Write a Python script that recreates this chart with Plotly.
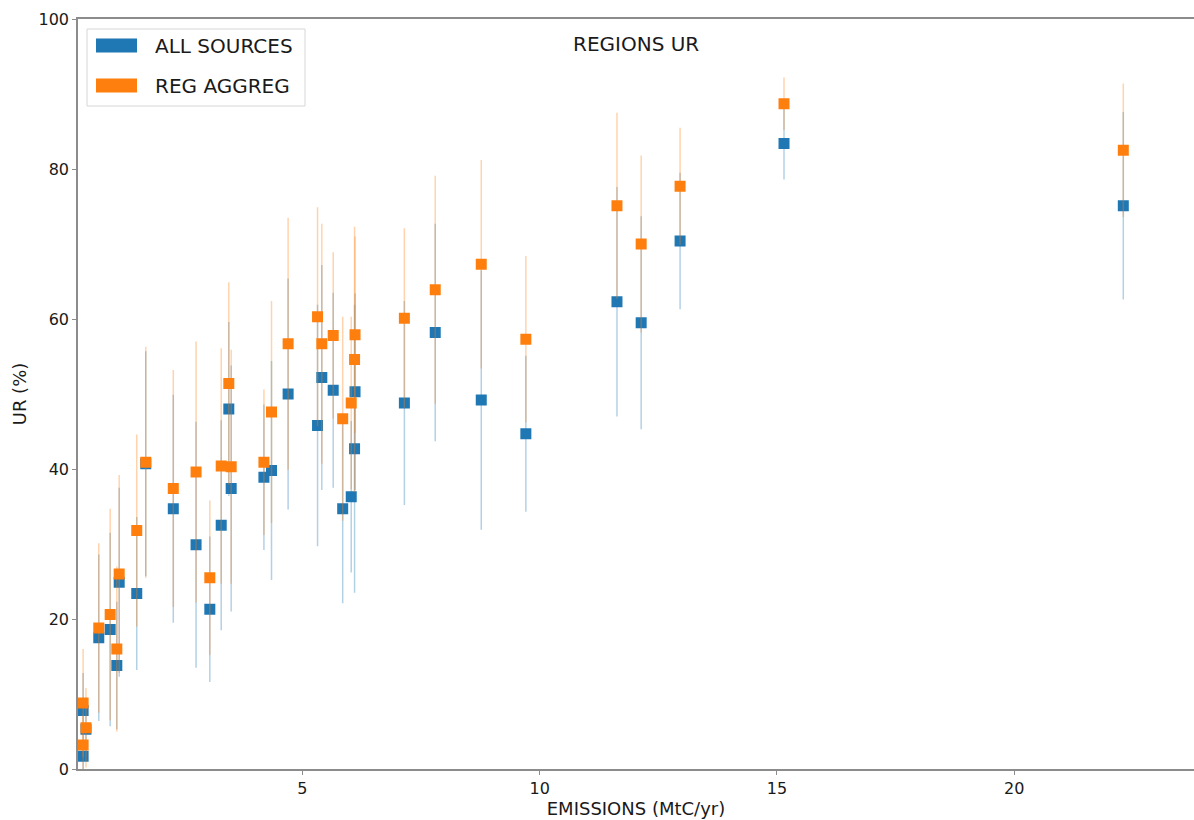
import plotly.graph_objects as go

# ---- data ----
emissions = [0.38, 0.38, 0.44, 0.71, 0.95, 1.09, 1.14, 1.51, 1.70, 2.28, 2.76, 3.05,
             3.29, 3.45, 3.50, 4.19, 4.35, 4.70, 5.32, 5.41, 5.65, 5.85, 6.03, 6.10,
             6.11, 7.15, 7.80, 8.77, 9.71, 11.63, 12.14, 12.96, 15.15, 22.30]
ur_all = [1.7, 7.8, 5.3, 17.5, 18.6, 13.8, 24.9, 23.4, 40.7, 34.7, 29.9, 21.3,
          32.5, 48.0, 37.4, 38.9, 39.8, 50.0, 45.8, 52.2, 50.5, 34.7, 36.3, 42.7,
          50.3, 48.8, 58.2, 49.2, 44.7, 62.3, 59.5, 70.4, 83.4, 75.1]
err_all = [2.0, 5.0, 4.0, 11.1, 12.9, 8.5, 12.6, 10.2, 15.0, 15.2, 16.4, 9.7,
           14.0, 11.6, 16.4, 9.7, 14.6, 15.4, 16.1, 15.0, 13.0, 12.6, 10.1, 19.2,
           13.1, 13.6, 14.5, 17.3, 10.4, 15.3, 14.2, 9.1, 4.8, 12.5]
ur_reg = [3.2, 8.8, 5.5, 18.8, 20.6, 16.0, 26.0, 31.8, 40.9, 37.4, 39.6, 25.5,
          40.4, 51.4, 40.3, 40.9, 47.6, 56.7, 60.3, 56.7, 57.8, 46.7, 48.8, 54.6,
          57.9, 60.1, 63.9, 67.3, 57.3, 75.1, 70.0, 77.7, 88.7, 82.5]
err_reg = [4.0, 7.2, 5.3, 11.3, 14.1, 11.0, 13.2, 12.8, 15.4, 15.8, 17.4, 10.3,
           15.7, 13.5, 15.6, 9.7, 14.8, 16.8, 14.6, 16.0, 11.1, 13.6, 11.5, 17.7,
           13.1, 12.0, 15.2, 13.9, 11.1, 12.4, 11.8, 7.8, 3.5, 8.9]
series_names = ["ALL SOURCES", "REG AGGREG"]
x_ticks = [5, 10, 15, 20]
y_ticks = [0, 20, 40, 60, 80, 100]

BLUE = "#1f77b4"
ORANGE = "#ff7f0e"
FONT = "DejaVu Sans"
TXT = "#1a1a1a"

W, H = 1194, 820
ML, MR, MT, MB = 78, 0, 19, 820 - 769
PW = W - ML - MR
PH = H - MT - MB


def px2paper(px, py):
    return (px - ML) / PW, (H - MB - py) / PH


fig = go.Figure()
for name, yv, ev, col, rgba in [
    (series_names[0], ur_all, err_all, BLUE, "rgba(31,119,180,0.34)"),
    (series_names[1], ur_reg, err_reg, ORANGE, "rgba(255,127,14,0.34)"),
]:
    fig.add_trace(go.Scatter(
        x=emissions, y=yv, mode="markers", name=name, showlegend=False,
        marker=dict(symbol="square", size=11, color=col, line=dict(width=0)),
        error_y=dict(type="data", array=ev, symmetric=True, color=rgba,
                     thickness=1.5, width=0),
    ))

axis_common = dict(
    showgrid=False, zeroline=False, showline=True, linecolor="#8c8c8c",
    linewidth=1.5, ticks="outside", ticklen=4, tickcolor="#8c8c8c",
    tickwidth=1, tickfont=dict(family=FONT, size=16, color=TXT),
)

fig.update_layout(
    width=W, height=H,
    margin=dict(l=ML, r=MR, t=MT, b=MB, pad=0),
    paper_bgcolor="white", plot_bgcolor="white",
    font=dict(family=FONT, color=TXT),
    xaxis=dict(range=[0.272, 23.79], tickvals=x_ticks, mirror=True,
               title=dict(text="EMISSIONS (MtC/yr)", font=dict(family=FONT, size=18, color=TXT),
                          standoff=4),
               **axis_common),
    yaxis=dict(range=[0, 100], tickvals=y_ticks, mirror=False,
               title=dict(text="UR (%)", font=dict(family=FONT, size=18, color=TXT),
                          standoff=7),
               **axis_common),
)

# title inside the axes
tx, ty = px2paper(640, 44)
fig.add_annotation(x=0.5, y=ty, xref="paper", yref="paper", text="REGIONS UR",
                   showarrow=False, xanchor="center", yanchor="middle",
                   font=dict(family=FONT, size=20, color=TXT))

# legend box
x0, y0 = px2paper(87, 106)
x1, y1 = px2paper(305, 29)
fig.add_shape(type="rect", xref="paper", yref="paper", x0=x0, y0=y0, x1=x1, y1=y1,
              line=dict(color="#d6d6d6", width=1), fillcolor="rgba(255,255,255,0.85)",
              layer="above")
for i, (name, col) in enumerate(zip(series_names, [BLUE, ORANGE])):
    cy = 45.5 + 40 * i
    a0, b0 = px2paper(96, cy + 7)
    a1, b1 = px2paper(137, cy - 7)
    fig.add_shape(type="rect", xref="paper", yref="paper", x0=a0, y0=b0, x1=a1, y1=b1,
                  line=dict(width=0), fillcolor=col, layer="above")
    lx, ly = px2paper(153, cy)
    fig.add_annotation(x=lx, y=ly, xref="paper", yref="paper", text=name,
                       showarrow=False, xanchor="left", yanchor="middle",
                       font=dict(family=FONT, size=20, color=TXT))

fig.write_html(
    "out.html",
    config={"displayModeBar": False},
    post_script="document.body.style.margin='0';document.body.style.overflow='hidden';",
)
